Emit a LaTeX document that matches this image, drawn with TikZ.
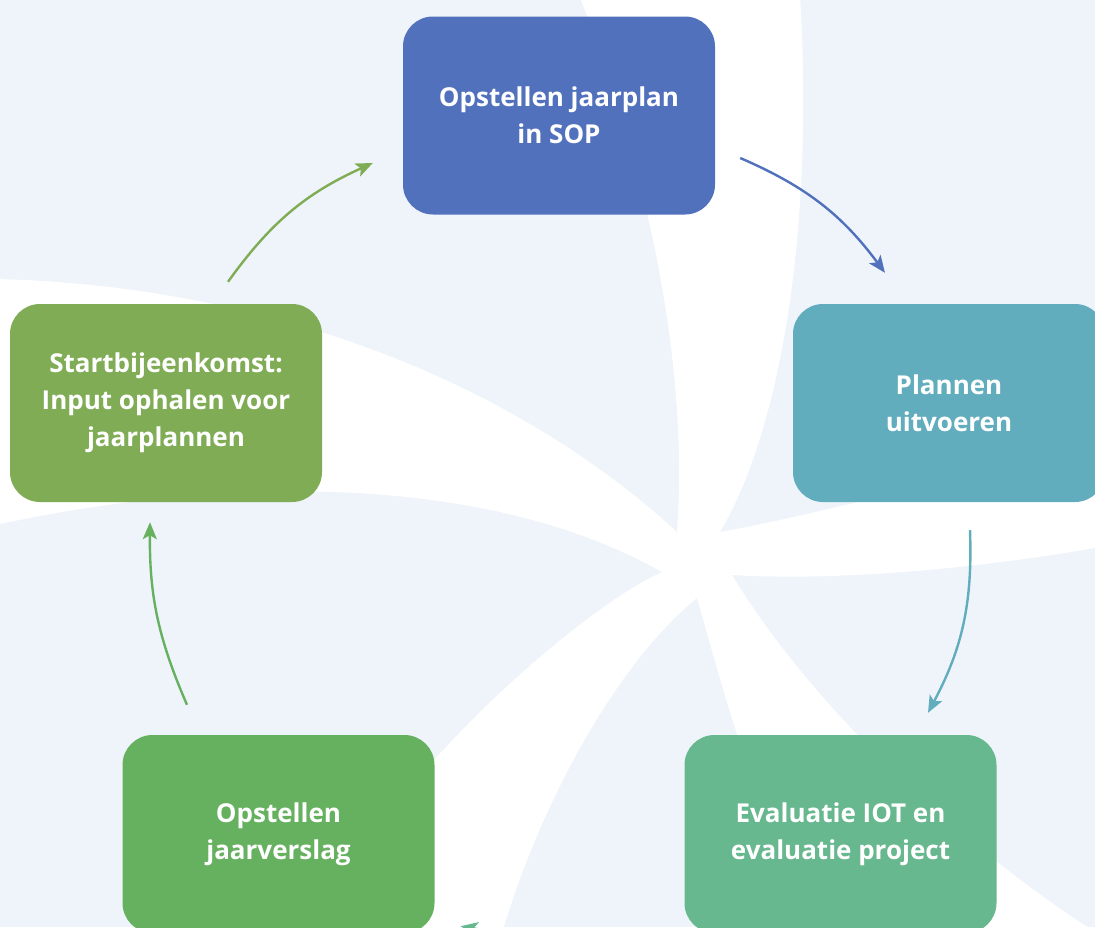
\documentclass[tikz,border=0pt]{standalone}
\usepackage{fontspec}
\setmainfont{Open Sans}
\usetikzlibrary{positioning,arrows.meta}
\definecolor{bgblue}{RGB}{239,244,251}
\definecolor{sopblue}{RGB}{81,113,189}
\definecolor{runteal}{RGB}{98,173,189}
\definecolor{startolive}{RGB}{128,172,86}
\definecolor{reportgreen}{RGB}{102,177,96}
\definecolor{evalgreen}{RGB}{103,183,143}

\begin{document}
\begin{tikzpicture}[x=1pt, y=1pt,
    stepbox/.style = {rounded corners=30pt, minimum width=312pt, minimum height=198pt,
      inner sep=0pt, align=center, text=white, font=\fontsize{26}{37}\selectfont\bfseries},
    flow/.style = {line width=2.4pt, -{Stealth[length=17pt, width=14pt, inset=4pt]}}]
  \useasboundingbox (0,0) rectangle (1095,-927);
  \begin{scope}
    \clip (0,0) rectangle (1095,-927);
    \fill[bgblue] (0,0) rectangle (1095,-927);
    \fill[white] (579,5) .. controls (640,-150) and (690,-350) .. (677,-532)
      -- (720,-532) .. controls (775,-440) and (815,-250) .. (800,5) -- cycle;
    \fill[white] (-5,-279) .. controls (250,-285) and (500,-370) .. (677,-532)
      -- (662,-572) .. controls (500,-480) and (250,-470) .. (-5,-525) -- cycle;
    \fill[white] (720,-532) .. controls (800,-518) and (950,-480) .. (1100,-440)
      -- (1100,-547) .. controls (1000,-565) and (850,-582) .. (732,-575) -- cycle;
    \fill[white] (662,-572) .. controls (600,-600) and (480,-700) .. (400,-800)
      -- (380,-940) -- (500,-940) .. controls (540,-800) and (620,-660) .. (697,-598) -- cycle;
    \fill[white] (697,-598) .. controls (712,-650) and (730,-720) .. (760,-800)
      -- (760,-950) -- (1120,-950) -- (1100,-935)
      .. controls (980,-860) and (820,-720) .. (732,-575) -- cycle;
    \fill[white] (677,-532) -- (720,-532) -- (732,-575) -- (697,-598) -- (662,-572) -- cycle;

    \node[stepbox, fill=sopblue] (jaarplan) at (559,-115.5) {Opstellen jaarplan\\in SOP};
    \node[stepbox, fill=runteal] (uitvoeren) at (949,-403) {Plannen\\uitvoeren};
    \node[stepbox, fill=evalgreen] (evaluatie) at (840.5,-834) {Evaluatie IOT en\\evaluatie project};
    \node[stepbox, fill=reportgreen] (jaarverslag) at (278.5,-834) {Opstellen\\jaarverslag};
    \node[stepbox, fill=startolive] (start) at (166,-403) {Startbijeenkomst:\\Input ophalen voor\\jaarplannen};

    \draw[flow, sopblue] ([shift={(25,-42.5)}]jaarplan.east) to[bend left=15] ([shift={(-64,31)}]uitvoeren.north);
    \draw[flow, runteal] ([shift={(21,-28)}]uitvoeren.south) to[bend left=15] ([shift={(87.5,22)}]evaluatie.north);
    \draw[flow, evalgreen] ([shift={(-20,-7)}]evaluatie.south west) to[bend left=6] ([shift={(26,7)}]jaarverslag.south east);
    \draw[flow, reportgreen] ([shift={(-91.5,30)}]jaarverslag.north) to[bend left=12] ([shift={(-16,-20)}]start.south);
    \draw[flow, startolive] ([shift={(62,22)}]start.north) to[bend left=15] ([shift={(-30,-47.5)}]jaarplan.west);
  \end{scope}
\end{tikzpicture}
\end{document}
